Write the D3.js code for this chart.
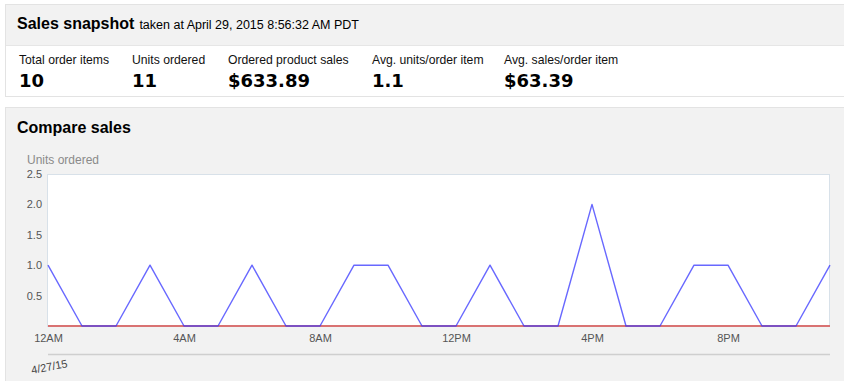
<!DOCTYPE html>
<html>
<head>
<meta charset="utf-8">
<script src="https://cdn.jsdelivr.net/npm/d3@7"></script>
<style>
  body { margin: 0; background: #fff; }
  svg { display: block; font-family: "Liberation Sans", Arial, sans-serif; }
</style>
</head>
<body>
<svg id="chart"></svg>
<script>
// header + snapshot numbers
var snapshotTitle = "Sales snapshot";
var snapshotTime = "taken at April 29, 2015 8:56:32 AM PDT";
var statLabels = ["Total order items", "Units ordered", "Ordered product sales", "Avg. units/order item", "Avg. sales/order item"];
var statValues = ["10", "11", "$633.89", "1.1", "$63.39"];

// hourly units ordered, 4/27/15
var hours = [0, 1, 2, 3, 4, 5, 6, 7, 8, 9, 10, 11, 12, 13, 14, 15, 16, 17, 18, 19, 20, 21, 22, 23];
var unitsToday = [1, 0, 0, 1, 0, 0, 1, 0, 0, 1, 1, 0, 0, 1, 0, 0, 2, 0, 0, 1, 1, 0, 0, 1];
var unitsCompare = [0, 0, 0, 0, 0, 0, 0, 0, 0, 0, 0, 0, 0, 0, 0, 0, 0, 0, 0, 0, 0, 0, 0, 0];

var xTicks = [0, 4, 8, 12, 16, 20];
var xTickLabels = ["12AM", "4AM", "8AM", "12PM", "4PM", "8PM"];
var yTicks = [0.5, 1.0, 1.5, 2.0, 2.5];
var dateLabel = "4/27/15";

var svgWidth = 844, svgHeight = 381;
var svg = d3.select("#chart")
    .attr("width", svgWidth)
    .attr("height", svgHeight);

// ---- snapshot panel
svg.append("rect")
    .attr("x", 5.5).attr("y", 4.5)
    .attr("width", 870).attr("height", 92)
    .attr("fill", "#fff")
    .attr("stroke", "#e3e3e3");
svg.append("rect")
    .attr("x", 6).attr("y", 5)
    .attr("width", 870).attr("height", 40)
    .attr("fill", "#f2f2f2");
svg.append("line")
    .attr("x1", 6).attr("x2", 876)
    .attr("y1", 45.5).attr("y2", 45.5)
    .attr("stroke", "#e6e6e6");

var title = svg.append("text")
    .attr("x", 17).attr("y", 29)
    .attr("fill", "#000");
title.append("tspan")
    .attr("font-size", 16)
    .attr("font-weight", "bold")
    .text(snapshotTitle);
title.append("tspan")
    .attr("dx", 5)
    .attr("font-size", 12.5)
    .text(snapshotTime);

var statX = [19, 132, 228, 372, 504];
var stats = svg.append("g");
statLabels.forEach(function(lbl, i) {
    stats.append("text")
        .attr("x", statX[i]).attr("y", 64)
        .attr("font-size", 12.2)
        .attr("fill", "#111")
        .text(lbl);
    stats.append("text")
        .attr("x", statX[i]).attr("y", 87)
        .attr("font-family", "'DejaVu Sans', Verdana, sans-serif")
        .attr("font-size", 18)
        .attr("font-weight", "bold")
        .attr("fill", "#000")
        .text(statValues[i]);
});

// ---- compare sales panel
svg.append("rect")
    .attr("x", 5.5).attr("y", 107.5)
    .attr("width", 870).attr("height", 300)
    .attr("fill", "#f2f2f2")
    .attr("stroke", "#e3e3e3");
svg.append("text")
    .attr("x", 17).attr("y", 133)
    .attr("font-size", 16)
    .attr("font-weight", "bold")
    .attr("fill", "#000")
    .text("Compare sales");
svg.append("text")
    .attr("x", 27).attr("y", 164)
    .attr("font-size", 12)
    .attr("fill", "#8a8a8a")
    .text("Units ordered");

var x = d3.scaleLinear().domain([0, 23]).range([48, 830]);
var y = d3.scaleLinear().domain([0, 2.5]).range([326, 174]);

svg.append("rect")
    .attr("x", x(0) - 0.5).attr("y", y(2.5) + 0.5)
    .attr("width", x(23) - x(0)).attr("height", y(0) - y(2.5))
    .attr("fill", "#fff")
    .attr("stroke", "#d8e1e9");

var yAxis = svg.append("g")
    .attr("transform", "translate(" + x(0) + ",0)")
    .call(d3.axisLeft(y).tickValues(yTicks).tickSize(0).tickPadding(6).tickFormat(d3.format(".1f")));
yAxis.select(".domain").remove();
yAxis.selectAll("text")
    .attr("font-family", "'Liberation Sans', Arial, sans-serif")
    .attr("font-size", 11)
    .attr("fill", "#555");

var xAxis = svg.append("g")
    .attr("transform", "translate(0," + y(0) + ")")
    .call(d3.axisBottom(x).tickValues(xTicks).tickSize(0).tickPadding(8)
        .tickFormat(function(d) { return xTickLabels[xTicks.indexOf(d)]; }));
xAxis.select(".domain").remove();
xAxis.selectAll("text")
    .attr("font-family", "'Liberation Sans', Arial, sans-serif")
    .attr("font-size", 11)
    .attr("fill", "#555");

var line = d3.line()
    .x(function(d) { return x(d.hour); })
    .y(function(d) { return y(d.value); });

var compareData = hours.map(function(h, i) { return { hour: h, value: unitsCompare[i] }; });
var todayData = hours.map(function(h, i) { return { hour: h, value: unitsToday[i] }; });

svg.append("path")
    .datum(compareData)
    .attr("fill", "none")
    .attr("stroke", "#d97272")
    .attr("stroke-width", 2.2)
    .attr("d", line);

svg.append("path")
    .datum(todayData)
    .attr("fill", "none")
    .attr("stroke", "#3535ff")
    .attr("stroke-opacity", 0.75)
    .attr("stroke-width", 1.4)
    .attr("stroke-linejoin", "round")
    .attr("d", line);

// date navigator strip
svg.append("line")
    .attr("x1", x(0)).attr("x2", x(23))
    .attr("y1", 354.5).attr("y2", 354.5)
    .attr("stroke", "#cfcfcf")
    .attr("stroke-width", 1.5);
svg.append("text")
    .attr("transform", "translate(32,374) rotate(-11)")
    .attr("font-size", 11)
    .attr("fill", "#444")
    .text(dateLabel);
</script>
</body>
</html>
